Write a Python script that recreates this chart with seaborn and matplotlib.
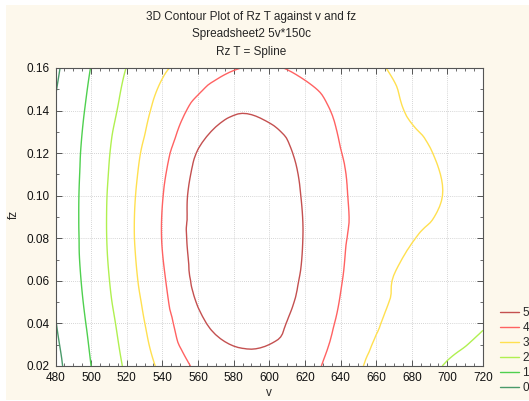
import numpy as np
import seaborn as sns
import matplotlib
matplotlib.use("Agg")
from matplotlib import pyplot as plt
import matplotlib.tri as mtri
from matplotlib.lines import Line2D
from matplotlib.patches import Rectangle

# grid of the fitted surface
v_values = [480, 500, 520, 540, 560, 580, 600, 620, 640, 660, 680, 700, 720]
fz_values = [0.02, 0.04, 0.06, 0.08, 0.10, 0.12, 0.14, 0.16]
rz_002 = [-0.25, 1.00, 2.14, 3.21, 4.17, 4.68, 4.70, 4.35, 3.54, 2.75, 2.39, 1.94, 1.60]
rz_004 = [-0.03, 1.18, 2.38, 3.60, 4.82, 5.33, 5.25, 4.62, 3.87, 3.08, 2.60, 2.38, 2.06]
rz_006 = [0.11, 1.35, 2.61, 3.87, 5.22, 5.60, 5.45, 4.88, 4.04, 3.33, 2.64, 2.45, 2.25]
rz_008 = [0.13, 1.44, 2.72, 4.03, 5.35, 5.70, 5.55, 4.96, 4.12, 3.56, 3.04, 2.75, 2.50]
rz_010 = [0.15, 1.44, 2.69, 3.97, 5.33, 5.67, 5.52, 4.92, 4.11, 3.69, 3.32, 2.95, 2.60]
rz_012 = [0.16, 1.36, 2.56, 3.71, 5.05, 5.45, 5.35, 4.77, 4.02, 3.61, 3.22, 2.85, 2.50]
rz_014 = [0.06, 1.21, 2.29, 3.34, 4.28, 4.92, 4.82, 4.42, 3.84, 3.37, 2.91, 2.60, 2.30]
rz_016 = [-0.15, 1.02, 2.02, 2.86, 3.44, 3.94, 4.08, 3.82, 3.46, 3.10, 2.75, 2.40, 2.10]

levels = [0, 1, 2, 3, 4, 5]
level_colors = ["#4a9a6a", "#4fd04f", "#b0f050", "#ffe050", "#ff6262", "#c45050"]
x_ticks = [480, 500, 520, 540, 560, 580, 600, 620, 640, 660, 680, 700, 720]
y_ticks = [0.02, 0.04, 0.06, 0.08, 0.10, 0.12, 0.14, 0.16]

W, H = 529, 401
cream = "#fdf8ec"


def main():
    sns.set_style("ticks")
    plt.rcParams["font.family"] = ["Liberation Sans", "DejaVu Sans"]
    plt.rcParams["font.size"] = 8.5

    fig = plt.figure(figsize=(W / 100, H / 100), dpi=100, facecolor="white")
    fig.patches.append(Rectangle((6 / W, 1 / H), 1, (H - 6) / H, transform=fig.transFigure,
                                 facecolor=cream, edgecolor="none", zorder=-10))
    ax = fig.add_axes([55.5 / W, 35 / H, 427.5 / W, 298 / H])
    ax.set_facecolor("white")

    rz = np.array([rz_002, rz_004, rz_006, rz_008, rz_010, rz_012, rz_014, rz_016])
    V, F = np.meshgrid(v_values, fz_values)
    # triangulate in scaled units so the cells are square, smooth like the "Spline" fit
    tri = mtri.Triangulation(V.ravel(), F.ravel() * 1000)
    interp = mtri.CubicTriInterpolator(tri, rz.ravel(), kind="geom")
    tri_f, z_f = mtri.UniformTriRefiner(tri).refine_field(rz.ravel(), triinterpolator=interp, subdiv=3)
    tri_plot = mtri.Triangulation(tri_f.x, tri_f.y / 1000, tri_f.triangles)
    ax.tricontour(tri_plot, z_f, levels=levels, colors=level_colors, linewidths=1.0)

    ax.set_xlim(480, 720)
    ax.set_ylim(0.02, 0.16)
    ax.set_xticks(x_ticks)
    ax.set_yticks(y_ticks)
    ax.set_xticklabels([str(t) for t in x_ticks])
    ax.set_yticklabels(["%.2f" % t for t in y_ticks])
    ax.set_xticks(np.arange(480, 721, 5), minor=True)
    ax.set_yticks(np.arange(0.02, 0.161, 0.01), minor=True)
    ax.tick_params(which="both", direction="in", top=True, right=True, color="#555555",
                   labelsize=8.5, labelcolor="#111111", pad=4)
    ax.tick_params(which="major", length=4, width=0.7)
    ax.tick_params(which="minor", length=2, width=0.6)
    ax.grid(True, which="major", linestyle=(0, (1, 1.5)), color="#c8c8c8", linewidth=0.6)
    for s in ax.spines.values():
        s.set_color("#555555")
        s.set_linewidth(0.8)

    fig.text(251 / W, 1 - 17 / H, "3D Contour Plot of Rz T against v and fz", ha="center", va="center", fontsize=8.5)
    fig.text(251 / W, 1 - 34 / H, "Spreadsheet2 5v*150c", ha="center", va="center", fontsize=8.5)
    fig.text(251 / W, 1 - 52 / H, "Rz T = Spline", ha="center", va="center", fontsize=8.5)
    fig.text(269 / W, 1 - 393 / H, "v", ha="center", va="center", fontsize=8.5)
    fig.text(14 / W, 1 - 214 / H, "fz", ha="center", va="center", rotation=90, fontsize=8.5)

    handles = [Line2D([0], [0], color=c, lw=1.0) for c in level_colors[::-1]]
    labels = [str(l) for l in levels[::-1]]
    fig.legend(handles, labels, loc="upper left", bbox_to_anchor=(500 / W, 1 - 307 / H),
               frameon=False, fontsize=8.5, handlelength=1.6, handletextpad=0.3,
               labelspacing=0.25, borderaxespad=0, borderpad=0)

    fig.savefig("out.png", dpi=100, facecolor=fig.get_facecolor())


if __name__ == '__main__':
    main()
